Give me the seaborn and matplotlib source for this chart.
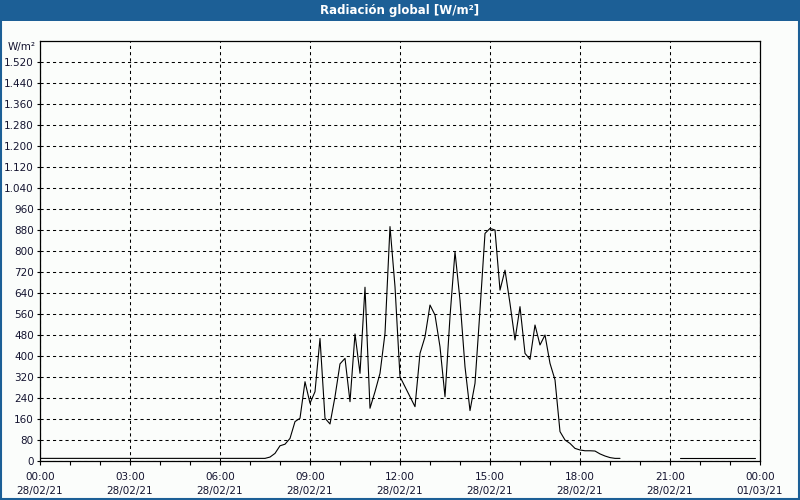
import matplotlib
matplotlib.use("Agg")
import matplotlib.pyplot as plt
from matplotlib.patches import Rectangle
import numpy as np
import pandas as pd
import seaborn as sns

# ---- data ----
day_times = ["00:00", "07:30", "07:40", "07:50", "08:00", "08:10", "08:20", "08:30",
             "08:40", "08:50", "09:00", "09:10", "09:20", "09:30", "09:40", "09:50",
             "10:00", "10:10", "10:20", "10:30", "10:40", "10:50", "11:00", "11:10",
             "11:20", "11:30", "11:40", "11:50", "12:00", "12:10", "12:20", "12:30",
             "12:40", "12:50", "13:00", "13:10", "13:20", "13:30", "13:40", "13:50",
             "14:00", "14:10", "14:20", "14:30", "14:40", "14:50", "15:00", "15:10",
             "15:20", "15:30", "15:40", "15:50", "16:00", "16:10", "16:20", "16:30",
             "16:40", "16:50", "17:00", "17:10", "17:20", "17:30", "17:40", "17:50",
             "18:00", "18:10", "18:20", "18:30", "18:40", "18:50", "19:00", "19:10",
             "19:20"]
day_values = [10, 10, 15, 29, 58, 64, 86, 150,
              163, 302, 220, 264, 467, 163, 141, 245,
              370, 391, 226, 484, 334, 662, 201, 264,
              334, 486, 893, 664, 321, 283, 245, 207,
              410, 473, 594, 556, 435, 245, 550, 797,
              613, 359, 192, 296, 575, 867, 886, 880,
              651, 727, 600, 461, 588, 410, 387, 518,
              442, 480, 372, 309, 112, 80, 67, 48,
              42, 39, 39, 38, 27, 19, 13, 10,
              10]
night_times = ["21:20", "23:50"]
night_values = [10, 10]

x_tick_hours = [0, 3, 6, 9, 12, 15, 18, 21, 24]
x_tick_labels = ["00:00\n28/02/21", "03:00\n28/02/21", "06:00\n28/02/21",
                 "09:00\n28/02/21", "12:00\n28/02/21", "15:00\n28/02/21",
                 "18:00\n28/02/21", "21:00\n28/02/21", "00:00\n01/03/21"]
y_ticks = list(range(0, 1521, 80))
title = "Radiación global [W/m²]"
unit = "W/m²"


def to_hours(t):
    h, m = t.split(":")
    return int(h) + int(m) / 60.0


df = pd.DataFrame({
    "hour": [to_hours(t) for t in day_times] + [to_hours(t) for t in night_times],
    "value": day_values + night_values,
    "segment": ["a"] * len(day_times) + ["b"] * len(night_times),
})

# ---- style ----
sns.set_style("ticks")
plt.rcParams["font.family"] = ["DejaVu Sans"]

bg = "#fbfdfb"
blue = "#1c5f96"
txt = "#141430"

fig = plt.figure(figsize=(8, 5), dpi=100, facecolor=bg)
ax = fig.add_axes([0.05, 0.078, 0.90, 0.840])
ax.set_facecolor(bg)

sns.lineplot(data=df, x="hour", y="value", units="segment", estimator=None,
             color="black", linewidth=0.8, ax=ax, legend=False)

ax.set_xlim(0, 24)
ax.set_ylim(0, 1600)
ax.set_xticks(x_tick_hours)
ax.set_xticklabels(x_tick_labels, linespacing=1.5)
ax.set_xticks(range(0, 25), minor=True)
ax.set_yticks(y_ticks)
ax.set_yticklabels([f"{v:,}".replace(",", ".") for v in y_ticks])
ax.set_xlabel("")
ax.set_ylabel("")

ax.tick_params(axis="both", which="both", direction="out", width=0.8,
               color="black", labelsize=7.5, labelcolor=txt)
ax.tick_params(axis="x", which="both", length=3, pad=5)
ax.tick_params(axis="y", length=2, pad=2.5)

for sp in ax.spines.values():
    sp.set_visible(True)
    sp.set_color("black")
    sp.set_linewidth(0.9)

ax.grid(True, which="major", color="black", linestyle=(0, (3, 3)), linewidth=0.75)
ax.set_axisbelow(True)

ax.text(-0.006, 0.998, unit, transform=ax.transAxes, ha="right", va="top",
        fontsize=7.5, color=txt)

# title bar and frame
fig.patches.append(Rectangle((0, 0.958), 1, 0.042, transform=fig.transFigure,
                             facecolor=blue, edgecolor="none", zorder=0))
fig.text(0.5, 0.979, title, ha="center", va="center", color="white",
         fontsize=8.5, fontweight="bold")
fig.patches.append(Rectangle((0.001, 0.002), 0.998, 0.997, transform=fig.transFigure,
                             facecolor="none", edgecolor=blue, linewidth=1.5, zorder=5))

fig.savefig("out.png", dpi=100, facecolor=bg)
